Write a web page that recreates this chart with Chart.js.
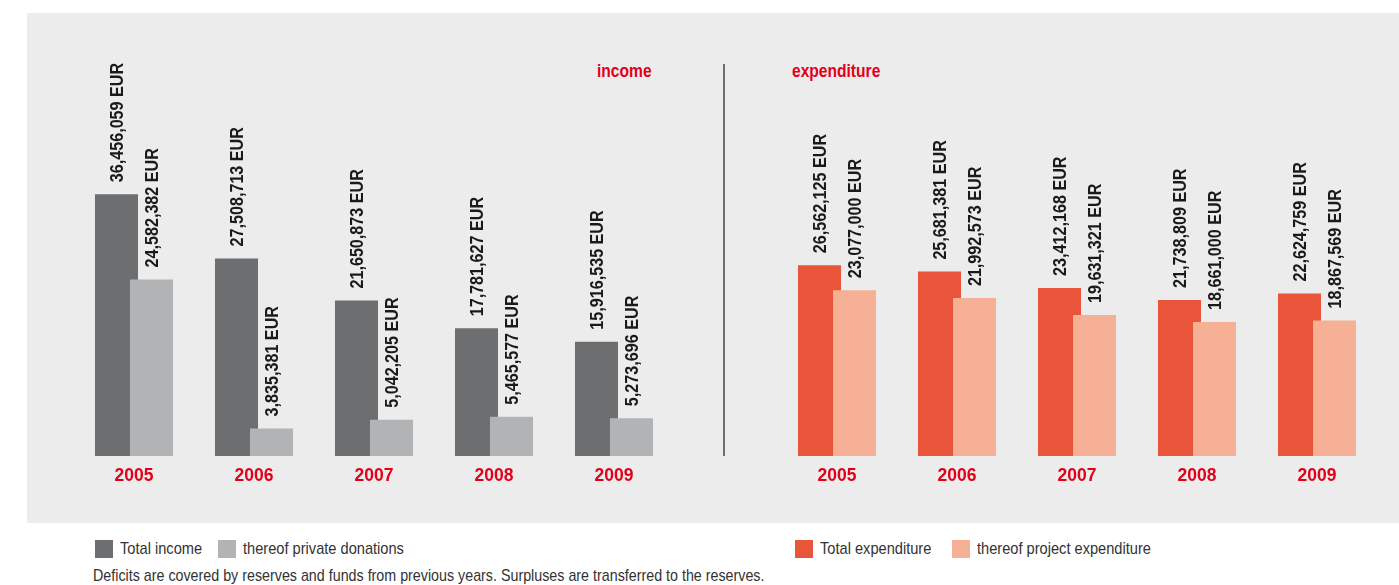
<!DOCTYPE html>
<html>
<head>
<meta charset="utf-8">
<title>Income and expenditure 2005-2009</title>
<script src="https://cdn.jsdelivr.net/npm/chart.js@4.4.1/dist/chart.umd.min.js"></script>
<style>
  body { margin: 0; background: #fff; font-family: "Liberation Sans", Arial, sans-serif; }
  #page { position: relative; width: 1399px; height: 585px; overflow: hidden; }
  #panel { position: absolute; left: 27px; top: 13px; width: 1372px; height: 510px; background: #ebeceb; }
  canvas { position: absolute; top: 0; }
  #incomeChart { left: 74px; }
  #expenditureChart { left: 777px; }
  .divider { position: absolute; left: 723px; top: 64px; width: 2px; height: 392px; background: #6e6e6e; }
  .section { position: absolute; top: 60px; color: #e2001a; font-weight: bold; font-size: 19px; transform: scaleX(0.82); transform-origin: left; }
  .legend { position: absolute; top: 539px; font-size: 17px; color: #333; white-space: nowrap; display: flex; align-items: center; }
  .legend .box { display: inline-block; width: 18px; height: 18px; margin-right: 7px; }
  .legend .text { display: inline-block; transform: scaleX(0.86); transform-origin: left; margin-right: 3px; }
  .note { position: absolute; left: 93px; top: 566px; font-size: 17px; color: #333; white-space: nowrap; transform: scaleX(0.84); transform-origin: left; }
</style>
</head>
<body>
<div id="page">
  <div id="panel"></div>
  <div class="divider"></div>
  <div class="section" style="left:597px">income</div>
  <div class="section" style="left:792px">expenditure</div>
  <canvas id="incomeChart" width="600" height="496"></canvas>
  <canvas id="expenditureChart" width="600" height="496"></canvas>
  <div class="legend" id="incomeLegend" style="left:95px"></div>
  <div class="legend" id="expenditureLegend" style="left:795px"></div>
  <div class="note">Deficits are covered by reserves and funds from previous years. Surpluses are transferred to the reserves.</div>
</div>
<script>
// Figures in EUR
const years = ['2005', '2006', '2007', '2008', '2009'];
const totalIncome = [36456059, 27508713, 21650873, 17781627, 15916535];
const privateDonations = [24582382, 3835381, 5042205, 5465577, 5273696];
const totalExpenditure = [26562125, 25681381, 23412168, 21738809, 22624759];
const projectExpenditure = [23077000, 21992573, 19631321, 18661000, 18867569];

const labelFont = 'bold 19px "Liberation Sans", Arial, sans-serif';

// the "thereof" bars sit over the right edge of the total bars
const thereofOnTop = {
  id: 'thereofOnTop',
  beforeDatasetDraw(chart, args) {
    if (args.index === 1) return false;
  },
  afterDatasetDraw(chart, args) {
    if (args.index === 0) chart.getDatasetMeta(1).controller.draw();
  }
};

// vertical "x,xxx,xxx EUR" labels above each bar, squeezed to a condensed look
const valueLabels = {
  id: 'valueLabels',
  afterDatasetsDraw(chart) {
    const ctx = chart.ctx;
    ctx.save();
    ctx.font = labelFont;
    ctx.fillStyle = '#1a1a1a';
    ctx.textAlign = 'left';
    ctx.textBaseline = 'middle';
    chart.data.datasets.forEach((ds, i) => {
      chart.getDatasetMeta(i).data.forEach((bar, j) => {
        ctx.save();
        ctx.translate(bar.x + 1, bar.y - 12);
        ctx.rotate(-Math.PI / 2);
        ctx.scale(0.85, 1);
        ctx.fillText(ds.data[j].toLocaleString('en-US') + ' EUR', 0, 0);
        ctx.restore();
      });
    });
    ctx.restore();
  }
};

function makeChart(id, legendId, totalLabel, totals, partLabel, parts, dark, light) {
  const chart = new Chart(document.getElementById(id), {
    type: 'bar',
    data: {
      labels: years,
      datasets: [
        { label: totalLabel, data: totals, backgroundColor: dark },
        { label: partLabel, data: parts, backgroundColor: light }
      ]
    },
    options: {
      responsive: false,
      animation: false,
      categoryPercentage: 0.5833,
      barPercentage: 1.229,
      layout: { padding: { top: 97, left: 0, right: 0, bottom: 0 } },
      plugins: { legend: { display: false }, tooltip: { enabled: false } },
      scales: {
        x: {
          grid: { display: false, drawTicks: false },
          border: { display: false },
          ticks: {
            color: '#e2001a',
            padding: 9.5,
            font: { family: '"Liberation Sans", Arial, sans-serif', size: 17.5, weight: 'bold' }
          }
        },
        y: { display: false, min: 0, max: 50000000 }
      }
    },
    plugins: [thereofOnTop, valueLabels]
  });

  const legend = document.getElementById(legendId);
  chart.data.datasets.forEach(ds => {
    const box = document.createElement('span');
    box.className = 'box';
    box.style.background = ds.backgroundColor;
    const text = document.createElement('span');
    text.className = 'text';
    text.textContent = ds.label;
    legend.appendChild(box);
    legend.appendChild(text);
  });
  return chart;
}

makeChart('incomeChart', 'incomeLegend',
  'Total income', totalIncome, 'thereof private donations', privateDonations,
  '#6d6e70', '#b2b3b5');
makeChart('expenditureChart', 'expenditureLegend',
  'Total expenditure', totalExpenditure, 'thereof project expenditure', projectExpenditure,
  '#e8553a', '#f5b095');
</script>
</body>
</html>
